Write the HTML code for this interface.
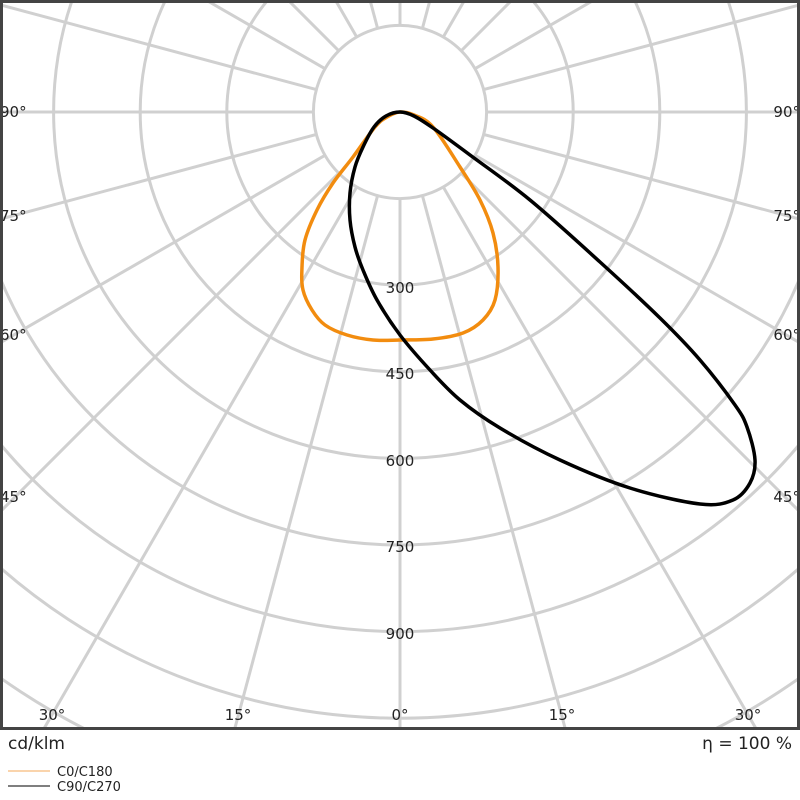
<!DOCTYPE html>
<html><head><meta charset="utf-8"><style>
html,body{margin:0;padding:0;background:#fff;width:800px;height:800px;overflow:hidden;}
svg{display:block;font-family:"DejaVu Sans","Liberation Sans",sans-serif;}
</style></head><body>
<svg width="800" height="800" viewBox="0 0 800 800" xmlns="http://www.w3.org/2000/svg">
<defs><clipPath id="c"><rect x="2" y="2" width="796" height="726"/></clipPath></defs>
<g clip-path="url(#c)" stroke="#d0d0d0" stroke-width="3" fill="none">
<circle cx="400" cy="112" r="86.6"/>
<circle cx="400" cy="112" r="173.2"/>
<circle cx="400" cy="112" r="259.8"/>
<circle cx="400" cy="112" r="346.4"/>
<circle cx="400" cy="112" r="433"/>
<circle cx="400" cy="112" r="519.6"/>
<circle cx="400" cy="112" r="606.2"/>
<circle cx="400" cy="112" r="692.8"/>
<circle cx="400" cy="112" r="779.4"/>
</g>
<g clip-path="url(#c)" stroke="#d0d0d0" stroke-width="3" id="radials"></g>
<g font-size="15" fill="#222" text-anchor="middle">
<text x="400" y="293">300</text>
<text x="400" y="379">450</text>
<text x="400" y="466">600</text>
<text x="400" y="552">750</text>
<text x="400" y="639">900</text>
<text x="52" y="720">30°</text>
<text x="238" y="720">15°</text>
<text x="400" y="720">0°</text>
<text x="562" y="720">15°</text>
<text x="748" y="720">30°</text>
</g>
<g font-size="15" fill="#222">
<text x="0" y="117">90°</text>
<text x="0" y="221">75°</text>
<text x="0" y="340">60°</text>
<text x="0" y="502">45°</text>
<text x="800" y="117" text-anchor="end">90°</text>
<text x="800" y="221" text-anchor="end">75°</text>
<text x="800" y="340" text-anchor="end">60°</text>
<text x="800" y="502" text-anchor="end">45°</text>
</g>
<path id="orange" fill="none" stroke="#f28c0f" stroke-width="3.5" stroke-linejoin="round"/>
<path id="black" fill="none" stroke="#000" stroke-width="3.5" stroke-linejoin="round"/>
<rect x="1.5" y="1.5" width="797" height="727" fill="none" stroke="#444" stroke-width="3"/>
<text x="8" y="749" font-size="17" fill="#222">cd/klm</text>
<text x="792" y="749" font-size="17" fill="#222" text-anchor="end">η = 100 %</text>
<line x1="8" y1="771" x2="50" y2="771" stroke="#f8c690" stroke-width="1.5"/>
<line x1="8" y1="786" x2="50" y2="786" stroke="#555" stroke-width="1.5"/>
<text x="57" y="776" font-size="13" fill="#222">C0/C180</text>
<text x="57" y="791" font-size="13" fill="#222">C90/C270</text>
</svg>
<script>
var NS='http://www.w3.org/2000/svg';
var g=document.getElementById('radials');
for(var a=0;a<360;a+=15){var r=a*Math.PI/180,s=Math.sin(r),c=Math.cos(r);
var l=document.createElementNS(NS,'line');
l.setAttribute('x1',400+86.6*s);l.setAttribute('y1',112+86.6*c);
l.setAttribute('x2',400+1200*s);l.setAttribute('y2',112+1200*c);g.appendChild(l);}
function cr(p){var n=p.length,d='M'+p[0][0]+','+p[0][1];
for(var i=0;i<n;i++){var p0=p[(i-1+n)%n],p1=p[i],p2=p[(i+1)%n],p3=p[(i+2)%n];
d+=' C'+(p1[0]+(p2[0]-p0[0])/6)+','+(p1[1]+(p2[1]-p0[1])/6)+' '+(p2[0]-(p3[0]-p1[0])/6)+','+(p2[1]-(p3[1]-p1[1])/6)+' '+p2[0]+','+p2[1];}
return d+'Z';}
var O=[[400,112],[387,117],[375,127],[353,157],[333,183],[317,210],[305,240],[302,267],[303,290],[312,310],[325,325],[347,335],[373,340],[400,340],[433,339],[463,333],[483,320],[495,300],[498,267],[493,233],[480,200],[460,167],[433,127],[414,115]];
var B=[[400,112],[386,116],[374,127],[363,147],[355,167],[350,193],[350,220],[355,247],[363,270],[377,300],[400,335],[430,370],[460,400],[500,428],[560,460],[630,488],[700,504],[733,500],[750,483],[755,460],[747,427],[735,405],[700,360],[660,318],[600,262],[530,200],[470,155],[433,128],[414,116]];
document.getElementById('orange').setAttribute('d',cr(O));
document.getElementById('black').setAttribute('d',cr(B));
</script>
</body></html>
